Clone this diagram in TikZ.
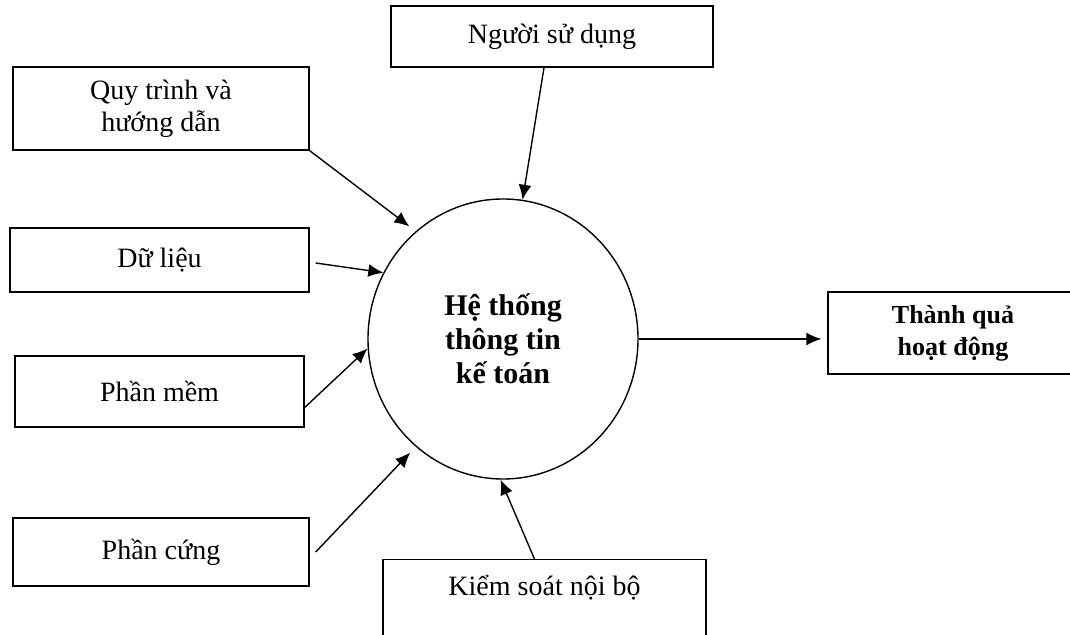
\documentclass[tikz,border=0pt]{standalone}
\usepackage{fontspec}
\setmainfont{Liberation Serif}
\usetikzlibrary{arrows.meta,shapes.geometric}

\tikzset{
  box/.style={draw, line width=0.7pt, inner sep=0pt, align=center, font=\fontsize{14}{16}\selectfont},
  flow/.style={-{Latex[length=7.5pt,width=6.5pt]}, line width=0.7pt}
}

\begin{document}
\begin{tikzpicture}[x=0.5pt, y=-0.5pt]
        \useasboundingbox (0,0) rectangle (1070,635);

        \node[draw, ellipse, line width=0.7pt, minimum width=135pt, minimum height=140pt, align=center,
              font=\fontsize{15}{17}\selectfont\bfseries] (hethong) at (503,339) {Hệ thống\\thông tin\\kế toán};

        \node[box, minimum width=161pt, minimum height=30.5pt] (nguoi) at (552,36.5) {Người sử dụng};
        \node[box, minimum width=148pt, minimum height=41.5pt] (quytrinh) at (161,108.5) {Quy trình và\\hướng dẫn};
        \node[box, minimum width=149.5pt, minimum height=32pt] (dulieu) at (159.5,260) {Dữ liệu};
        \node[box, minimum width=144.5pt, minimum height=35.5pt] (phanmem) at (159.5,391.5) {Phần mềm};
        \node[box, minimum width=148pt, minimum height=34pt] (phancung) at (161,552) {Phần cứng};
        \node[box, minimum width=161.5pt, text height=18pt, text depth=30pt, anchor=north] (kiemsoat) at (544.5,559) {Kiểm soát nội bộ};
        \node[box, minimum width=132pt, minimum height=41pt, font=\fontsize{13}{16}\selectfont\bfseries] (thanhqua) at (960,333) {\hspace*{-7pt}Thành quả\\\hspace*{-7pt}hoạt động};

        \draw[flow] ([xshift=-4pt]nguoi.south) -- (hethong.82);
        \draw[flow, shorten >=4pt] (quytrinh.south east) -- (hethong.129);
        \draw[flow] ([xshift=3pt,yshift=-1.5pt]dulieu.east) -- (hethong.151);
        \draw[flow] ([yshift=-8pt]phanmem.east) -- (hethong.184);
        \draw[flow, shorten >=4pt] ([xshift=3pt]phancung.east) -- (hethong.231);
        \draw[flow] ([xshift=-5pt]kiemsoat.north) -- (hethong.269);
        \draw[flow, shorten >=3pt] (hethong.0) -- (hethong.0 -| thanhqua.west);
\end{tikzpicture}
\end{document}
